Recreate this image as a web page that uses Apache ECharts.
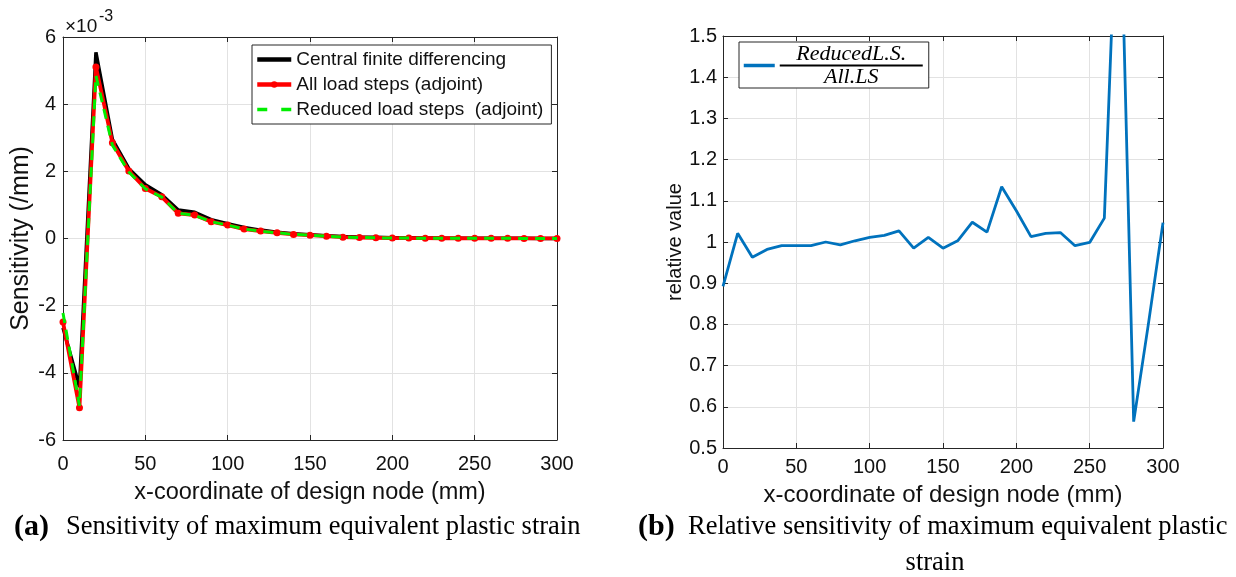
<!DOCTYPE html>
<html>
<head>
<meta charset="utf-8">
<script src="https://cdn.jsdelivr.net/npm/echarts@6/dist/echarts.min.js"></script>
<style>
html,body{margin:0;padding:0;background:#fff;}
#chart{width:1236px;height:577px;}
</style>
</head>
<body>
<div id="chart"></div>
<script>
// ---- data ----
var xNodes = [0,10,20,30,40,50,60,70,80,90,100,110,120,130,140,150,160,170,180,190,200,210,220,230,240,250,260,270,280,290,300];
// sensitivity values in units of 1e-3 /mm
var centralFD = [-2.66,-4.42,5.54,2.95,2.08,1.60,1.30,0.85,0.78,0.56,0.44,0.33,0.25,0.19,0.14,0.11,0.08,0.06,0.045,0.035,0.025,0.02,0.015,0.012,0.01,0.008,0.006,0.005,0.004,0.003,0.002];
var allLoadSteps = [-2.49,-5.04,5.11,2.85,2.01,1.49,1.24,0.75,0.70,0.50,0.40,0.28,0.22,0.17,0.12,0.10,0.07,0.04,0.03,0.02,0.015,0.012,0.01,0.008,0.007,0.006,0.005,0.004,0.003,0.003,0.002];
var reducedLoadSteps = [-2.22,-4.98,4.85,2.78,1.98,1.48,1.23,0.75,0.69,0.50,0.40,0.28,0.22,0.17,0.12,0.10,0.07,0.04,0.03,0.02,0.015,0.012,0.01,0.008,0.007,0.006,0.005,0.004,0.003,0.003,0.002];
var relativeValue = [0.892,1.021,0.963,0.982,0.991,0.991,0.991,1.000,0.993,1.003,1.011,1.016,1.027,0.985,1.011,0.985,1.003,1.048,1.024,1.134,1.076,1.013,1.021,1.023,0.991,0.999,1.058,1.98,0.564,0.80,1.047];
var seriesNames = ['Central finite differencing','All load steps (adjoint)','Reduced load steps  (adjoint)'];
var ratioName = 'ratio';
var xAxisTitle = 'x-coordinate of design node (mm)';
var yTitleLeft = 'Sensitivity (/mm)';
var yTitleRight = 'relative value';
var captionA = 'Sensitivity of maximum equivalent plastic strain';
var captionB1 = 'Relative sensitivity of maximum equivalent plastic';
var captionB2 = 'strain';

function pairs(ys){ return xNodes.map(function(x,i){ return [x, ys[i]]; }); }

var SANS = '"Liberation Sans", Arial, sans-serif';
var SERIF = '"Liberation Serif", "Times New Roman", serif';
var AX = '#262626';
var GRID = '#e2e2e2';

function mainX(gi, gap, fs, margin){
  return {
    type:'value', gridIndex:gi, min:0, max:300, interval:50, position:'bottom',
    axisLine:{show:true, onZero:false, lineStyle:{color:AX, width:1}},
    axisTick:{show:true, inside:true, length:5, lineStyle:{color:AX}},
    axisLabel:{color:'#111', fontFamily:SANS, fontSize:20, margin:margin},
    splitLine:{show:true, lineStyle:{color:GRID, width:1}},
    name:xAxisTitle, nameLocation:'middle', nameGap:gap,
    nameTextStyle:{color:'#111', fontFamily:SANS, fontSize:fs}
  };
}
function topX(gi){
  return {
    type:'value', gridIndex:gi, min:0, max:300, interval:50, position:'top',
    axisLine:{show:true, onZero:false, lineStyle:{color:AX, width:1}},
    axisTick:{show:true, inside:true, length:5, lineStyle:{color:AX}},
    axisLabel:{show:false}, splitLine:{show:false}
  };
}
function sideY(gi, mn, mx, iv, pos){
  return {
    type:'value', gridIndex:gi, min:mn, max:mx, interval:iv, position:pos,
    axisLine:{show:true, onZero:false, lineStyle:{color:AX, width:1}},
    axisTick:{show:true, inside:true, length:5, lineStyle:{color:AX}},
    axisLabel:{show:false}, splitLine:{show:false}
  };
}

var chart = echarts.init(document.getElementById('chart'), null, {renderer:'canvas'});
var option = {
  animation:false,
  backgroundColor:'#fff',
  grid:[
    {left:63, top:37, width:494, height:403},
    {left:723, top:36, width:440, height:412}
  ],
  xAxis:[ mainX(0, 41, 23.5, 14), topX(0), mainX(1, 35, 24, 9), topX(1) ],
  yAxis:[
    {
      type:'value', gridIndex:0, min:-6, max:6, interval:2, position:'left',
      axisLine:{show:true, onZero:false, lineStyle:{color:AX, width:1}},
      axisTick:{show:true, inside:true, length:5, lineStyle:{color:AX}},
      axisLabel:{color:'#111', fontFamily:SANS, fontSize:20, margin:7},
      splitLine:{show:true, lineStyle:{color:GRID, width:1}},
      name:yTitleLeft, nameLocation:'middle', nameGap:29,
      nameTextStyle:{color:'#111', fontFamily:SANS, fontSize:25}
    },
    sideY(0,-6,6,2,'right'),
    {
      type:'value', gridIndex:1, min:0.5, max:1.5, interval:0.1, position:'left',
      axisLine:{show:true, onZero:false, lineStyle:{color:AX, width:1}},
      axisTick:{show:true, inside:true, length:5, lineStyle:{color:AX}},
      axisLabel:{color:'#111', fontFamily:SANS, fontSize:20, margin:6,
        formatter:function(v){ return String(Math.round(v*10)/10); }},
      splitLine:{show:true, lineStyle:{color:GRID, width:1}},
      name:yTitleRight, nameLocation:'middle', nameGap:38,
      nameTextStyle:{color:'#111', fontFamily:SANS, fontSize:20}
    },
    sideY(1,0.5,1.5,0.1,'right')
  ],
  legend:[
    {
      orient:'vertical', left:252, top:45,
      data:[
        {name:seriesNames[0], itemStyle:{opacity:0}, lineStyle:{width:4.5}},
        {name:seriesNames[1], itemStyle:{opacity:1}, lineStyle:{width:4.5}},
        {name:seriesNames[2], itemStyle:{opacity:0}, lineStyle:{width:3.5, type:[10,14]}}
      ],
      backgroundColor:'#fff', borderColor:AX, borderWidth:1,
      padding:[5,8,5,3], itemGap:6, itemWidth:34, itemHeight:8, itemTextGap:3,
      textStyle:{color:'#111', fontFamily:SANS, fontSize:19}
    },
    {
      orient:'vertical', left:739, top:42,
      data:[{name:ratioName, itemStyle:{opacity:0}, lineStyle:{width:3.5}}],
      backgroundColor:'#fff', borderColor:AX, borderWidth:1,
      padding:[1,6,0,3], itemWidth:31, itemHeight:10, itemTextGap:8,
      formatter:function(){ return '{n|ReducedL.S.}\n{bar|}\n{d|All.LS}'; },
      textStyle:{
        rich:{
          n:{fontFamily:SERIF, fontStyle:'italic', fontSize:22, color:'#000', width:143, align:'center', lineHeight:20},
          bar:{width:143, height:2, backgroundColor:'#000', lineHeight:3},
          d:{fontFamily:SERIF, fontStyle:'italic', fontSize:22, color:'#000', width:143, align:'center', lineHeight:20}
        }
      }
    }
  ],
  series:[
    {
      name:seriesNames[0], type:'line', xAxisIndex:0, yAxisIndex:0,
      data:pairs(centralFD), showSymbol:false, symbol:'none',
      lineStyle:{color:'#000', width:3.5}, itemStyle:{color:'#000'}, z:2
    },
    {
      name:seriesNames[1], type:'line', xAxisIndex:0, yAxisIndex:0,
      data:pairs(allLoadSteps), symbol:'circle', symbolSize:7,
      lineStyle:{color:'#ff0000', width:3.8}, itemStyle:{color:'#ff0000'}, z:3
    },
    {
      name:seriesNames[2], type:'line', xAxisIndex:0, yAxisIndex:0,
      data:pairs(reducedLoadSteps), symbol:'none',
      lineStyle:{color:'#00ee00', width:3, type:[10,7]}, itemStyle:{color:'#00ee00'}, z:4
    },
    {
      name:ratioName, type:'line', xAxisIndex:2, yAxisIndex:2,
      data:pairs(relativeValue), symbol:'none', clip:true,
      lineStyle:{color:'#0072BD', width:2.8}, itemStyle:{color:'#0072BD'}
    }
  ],
  graphic:[
    {type:'text', x:65, y:27, style:{text:'\u00d710', fill:'#111', font:'19px ' + SANS, verticalAlign:'middle'}},
    {type:'text', x:99, y:17, style:{text:'-3', fill:'#111', font:'16px ' + SANS, verticalAlign:'middle'}},
    {type:'text', x:14, y:527, style:{text:'(a)', fill:'#000', font:'bold 30px ' + SERIF, verticalAlign:'middle'}},
    {type:'text', x:66, y:527, style:{text:captionA, fill:'#000', font:'26.5px ' + SERIF, verticalAlign:'middle'}},
    {type:'text', x:638, y:527, style:{text:'(b)', fill:'#000', font:'bold 30px ' + SERIF, verticalAlign:'middle'}},
    {type:'text', x:688, y:527, style:{text:captionB1, fill:'#000', font:'26.5px ' + SERIF, verticalAlign:'middle'}},
    {type:'text', x:935, y:563, style:{text:captionB2, fill:'#000', font:'26.5px ' + SERIF, align:'center', verticalAlign:'middle'}}
  ]
};
chart.setOption(option);
</script>
</body>
</html>
